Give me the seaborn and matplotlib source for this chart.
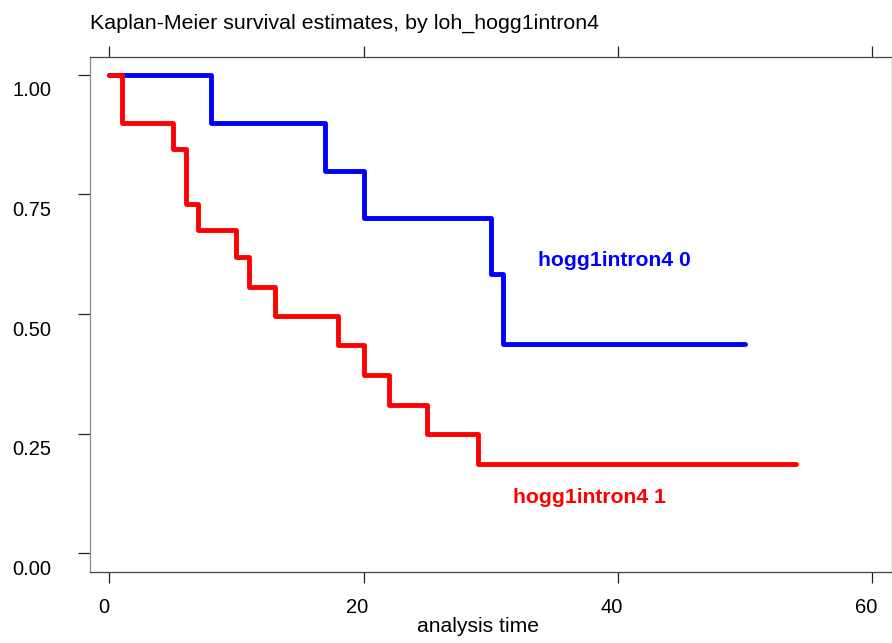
import matplotlib
matplotlib.use("Agg")
import matplotlib.pyplot as plt
import matplotlib.transforms as mtransforms
import seaborn as sns
import pandas as pd

# ---- data ----
blue_time = [0, 8, 17, 20, 30, 31, 50]
blue_surv = [1.0, 0.9, 0.8, 0.7, 0.583, 0.4375, 0.4375]
red_time = [0, 1, 5, 6, 7, 10, 11, 13, 18, 20, 22, 25, 29, 54]
red_surv = [1.0, 0.9, 0.845, 0.73, 0.676, 0.62, 0.557, 0.496, 0.435, 0.372, 0.31, 0.249, 0.187, 0.187]
group_labels = ["hogg1intron4 0", "hogg1intron4 1"]
x_ticks = [0, 20, 40, 60]
y_ticks = [0.0, 0.25, 0.5, 0.75, 1.0]
y_tick_labels = ["0.00", "0.25", "0.50", "0.75", "1.00"]
title_text = "Kaplan-Meier survival estimates, by loh_hogg1intron4"
x_label = "analysis time"

sns.set_style("white")
plt.rcParams["font.family"] = ["Liberation Sans", "DejaVu Sans"]
plt.rcParams["text.color"] = "black"
plt.rcParams["axes.labelcolor"] = "black"
plt.rcParams["xtick.color"] = "black"
plt.rcParams["ytick.color"] = "black"

fig = plt.figure(figsize=(8.92, 6.43), dpi=100)
ax = fig.add_axes([90 / 892, (643 - 571.7) / 643, (891.5 - 90) / 892, (571.7 - 56.7) / 643])

df_blue = pd.DataFrame({"time": blue_time, "surv": blue_surv})
df_red = pd.DataFrame({"time": red_time, "surv": red_surv})

line_kw = dict(drawstyle="steps-post", linewidth=3.5, estimator=None, legend=False,
               solid_joinstyle="round", solid_capstyle="round")
sns.lineplot(data=df_blue, x="time", y="surv", color="#0000ff", ax=ax, **line_kw)
sns.lineplot(data=df_red, x="time", y="surv", color="#ff0000", ax=ax, **line_kw)

ax.set_xlim(-1.52, 61.52)
ax.set_ylim(-0.0385, 1.038)

ax.set_xticks(x_ticks)
ax.set_xticklabels([str(t) for t in x_ticks])
ax.set_yticks(y_ticks)
ax.set_yticklabels(y_tick_labels)
ax.set_xlabel(x_label, fontsize=15.2, color="black")
ax.set_ylabel("")
ax.xaxis.set_label_coords((478 - 90) / (891.5 - 90), -(627 - 571.7) / (571.7 - 56.7))
ax.xaxis.label.set_va("center")

ax.tick_params(axis="x", which="both", direction="out", length=8.2, width=0.9, color="#222222",
               top=True, bottom=True, labelsize=14.5, pad=11, labelcolor="black")
ax.tick_params(axis="y", which="both", direction="out", length=9, width=0.9, color="#222222",
               left=True, right=True, labelsize=14.5, pad=19, labelcolor="black")

# shift labels like the reference
for lab in ax.get_yticklabels():
    lab.set_transform(lab.get_transform() + mtransforms.ScaledTranslation(0, -0.14, fig.dpi_scale_trans))
for lab in ax.get_xticklabels():
    lab.set_transform(lab.get_transform() + mtransforms.ScaledTranslation(-0.06, 0, fig.dpi_scale_trans))

for side in ["top", "bottom", "right"]:
    ax.spines[side].set_color("#444444")
    ax.spines[side].set_linewidth(0.9)
ax.spines["left"].set_color("#888888")
ax.spines["left"].set_linewidth(0.9)
ax.grid(False)

ax.text(33.74, 0.613, group_labels[0], color="#0000ff", fontsize=15.2, fontweight="bold",
        ha="left", va="center")
ax.text(31.77, 0.1156, group_labels[1], color="#ff0000", fontsize=15.2, fontweight="bold",
        ha="left", va="center")

fig.text(90 / 892, (643 - 28.3) / 643, title_text, fontsize=15.4, ha="left", va="baseline",
         color="black")

fig.savefig("out.png", dpi=100, facecolor="white")
